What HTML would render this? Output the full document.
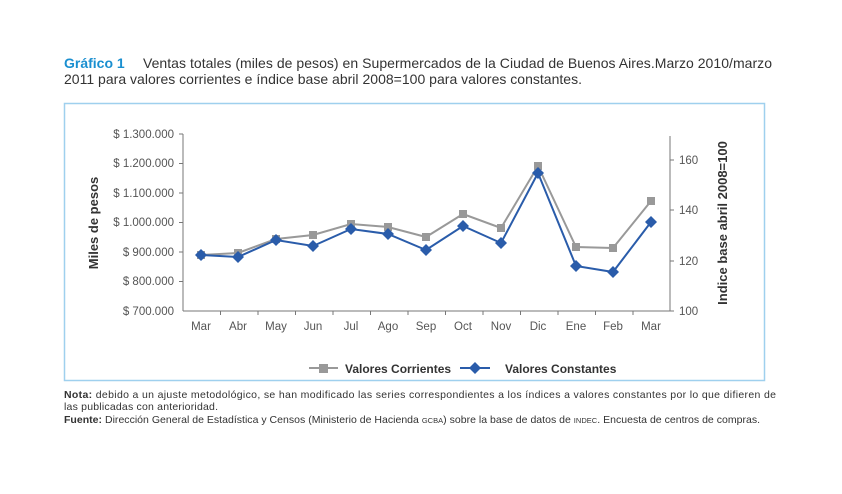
<!DOCTYPE html>
<html><head><meta charset="utf-8"><style>
body{margin:0;background:#fff;width:842px;height:489px;overflow:hidden;font-family:"Liberation Sans",sans-serif}
</style></head><body>
<svg width="842" height="489" xmlns="http://www.w3.org/2000/svg" font-family="Liberation Sans, sans-serif">
<text x="64" y="68" font-size="14" fill="#1a8fd0" font-weight="bold">Gráfico 1</text>
<text x="143" y="68" font-size="14" fill="#333" textLength="629" lengthAdjust="spacing">Ventas totales (miles de pesos) en Supermercados de la Ciudad de Buenos Aires.Marzo 2010/marzo</text>
<text x="64" y="84" font-size="14" fill="#333" textLength="518" lengthAdjust="spacing">2011  para valores corrientes e índice base abril 2008=100 para valores constantes.</text>
<rect x="64.5" y="103.5" width="700" height="277" fill="none" stroke="#9fd0ee" stroke-width="1.5"/>
<g font-size="11.5" fill="#555" text-anchor="end">
<text x="174" y="138">$ 1.300.000</text><text x="174" y="167">$ 1.200.000</text><text x="174" y="197">$ 1.100.000</text><text x="174" y="226">$ 1.000.000</text><text x="174" y="256">$ 900.000</text><text x="174" y="285">$ 800.000</text><text x="174" y="315">$ 700.000</text>
</g>
<g stroke="#777" stroke-width="1">
<line x1="183" y1="134" x2="183" y2="311"/><line x1="183" y1="311" x2="670" y2="311"/><line x1="670" y1="136" x2="670" y2="311"/>
<line x1="179" y1="134" x2="183" y2="134"/><line x1="179" y1="163.5" x2="183" y2="163.5"/><line x1="179" y1="193" x2="183" y2="193"/><line x1="179" y1="222.5" x2="183" y2="222.5"/><line x1="179" y1="252" x2="183" y2="252"/><line x1="179" y1="281.5" x2="183" y2="281.5"/>
<line x1="670" y1="160" x2="674" y2="160"/><line x1="670" y1="210" x2="674" y2="210"/><line x1="670" y1="261" x2="674" y2="261"/><line x1="670" y1="311" x2="674" y2="311"/>
<line x1="220.5" y1="311" x2="220.5" y2="315"/><line x1="258" y1="311" x2="258" y2="315"/><line x1="295.5" y1="311" x2="295.5" y2="315"/><line x1="333" y1="311" x2="333" y2="315"/><line x1="370.5" y1="311" x2="370.5" y2="315"/><line x1="408" y1="311" x2="408" y2="315"/><line x1="445.5" y1="311" x2="445.5" y2="315"/><line x1="483" y1="311" x2="483" y2="315"/><line x1="520.5" y1="311" x2="520.5" y2="315"/><line x1="558" y1="311" x2="558" y2="315"/><line x1="595.5" y1="311" x2="595.5" y2="315"/><line x1="633" y1="311" x2="633" y2="315"/>
</g>
<g font-size="11.5" fill="#555">
<text x="679" y="164">160</text><text x="679" y="214">140</text><text x="679" y="265">120</text><text x="679" y="315">100</text>
</g>
<g font-size="11.5" fill="#555" text-anchor="middle">
<text x="201" y="330">Mar</text><text x="238" y="330">Abr</text><text x="276" y="330">May</text><text x="313" y="330">Jun</text><text x="351" y="330">Jul</text><text x="388" y="330">Ago</text><text x="426" y="330">Sep</text><text x="463" y="330">Oct</text><text x="501" y="330">Nov</text><text x="538" y="330">Dic</text><text x="576" y="330">Ene</text><text x="613" y="330">Feb</text><text x="651" y="330">Mar</text>
</g>
<text transform="translate(98,223) rotate(-90)" font-size="13" font-weight="bold" fill="#333" text-anchor="middle">Miles de pesos</text>
<text transform="translate(727,223) rotate(-90)" font-size="13" font-weight="bold" fill="#333" text-anchor="middle">Indice base abril 2008=100</text>
<polyline fill="none" stroke="#999" stroke-width="2" points="201,255 238,253 276,239 313,235 351,224 388,227 426,237 463,214 501,228 538,166 576,247 613,248 651,201"/>
<g fill="#999">
<rect x="197" y="251" width="8" height="8"/><rect x="234" y="249" width="8" height="8"/><rect x="272" y="235" width="8" height="8"/><rect x="309" y="231" width="8" height="8"/><rect x="347" y="220" width="8" height="8"/><rect x="384" y="223" width="8" height="8"/><rect x="422" y="233" width="8" height="8"/><rect x="459" y="210" width="8" height="8"/><rect x="497" y="224" width="8" height="8"/><rect x="534" y="162" width="8" height="8"/><rect x="572" y="243" width="8" height="8"/><rect x="609" y="244" width="8" height="8"/><rect x="647" y="197" width="8" height="8"/>
</g>
<polyline fill="none" stroke="#2a5caa" stroke-width="2" points="201,255 238,257 276,240 313,246 351,229 388,234 426,250 463,226 501,243 538,173 576,266 613,272 651,222"/>
<g fill="#2a5caa">
<path d="M201,249l6,6-6,6-6-6z"/><path d="M238,251l6,6-6,6-6-6z"/><path d="M276,234l6,6-6,6-6-6z"/><path d="M313,240l6,6-6,6-6-6z"/><path d="M351,223l6,6-6,6-6-6z"/><path d="M388,228l6,6-6,6-6-6z"/><path d="M426,244l6,6-6,6-6-6z"/><path d="M463,220l6,6-6,6-6-6z"/><path d="M501,237l6,6-6,6-6-6z"/><path d="M538,167l6,6-6,6-6-6z"/><path d="M576,260l6,6-6,6-6-6z"/><path d="M613,266l6,6-6,6-6-6z"/><path d="M651,216l6,6-6,6-6-6z"/>
</g>
<line x1="309" y1="368" x2="338" y2="368" stroke="#999" stroke-width="2"/><rect x="319" y="364" width="9" height="9" fill="#999"/>
<text x="345" y="373" font-size="12" font-weight="bold" fill="#333">Valores Corrientes</text>
<line x1="460" y1="368" x2="490" y2="368" stroke="#2a5caa" stroke-width="2"/><path d="M475,362l6,6-6,6-6-6z" fill="#2a5caa"/>
<text x="505" y="373" font-size="12" font-weight="bold" fill="#333">Valores Constantes</text>
<g font-size="10.5" fill="#333">
<text x="64" y="398" textLength="712" lengthAdjust="spacing"><tspan font-weight="bold">Nota:</tspan> debido a un ajuste metodológico, se han modificado las series correspondientes a los índices a valores constantes por lo que difieren de</text>
<text x="64" y="410" textLength="154" lengthAdjust="spacing">las publicadas con anterioridad.</text>
<text x="64" y="423" textLength="696" lengthAdjust="spacing"><tspan font-weight="bold">Fuente:</tspan> Dirección General de Estadística y Censos (Ministerio de Hacienda <tspan font-size="7.5">GCBA</tspan>) sobre la base de datos de <tspan font-size="7.5">INDEC</tspan>. Encuesta de centros de compras.</text>
</g>
</svg>
</body></html>
